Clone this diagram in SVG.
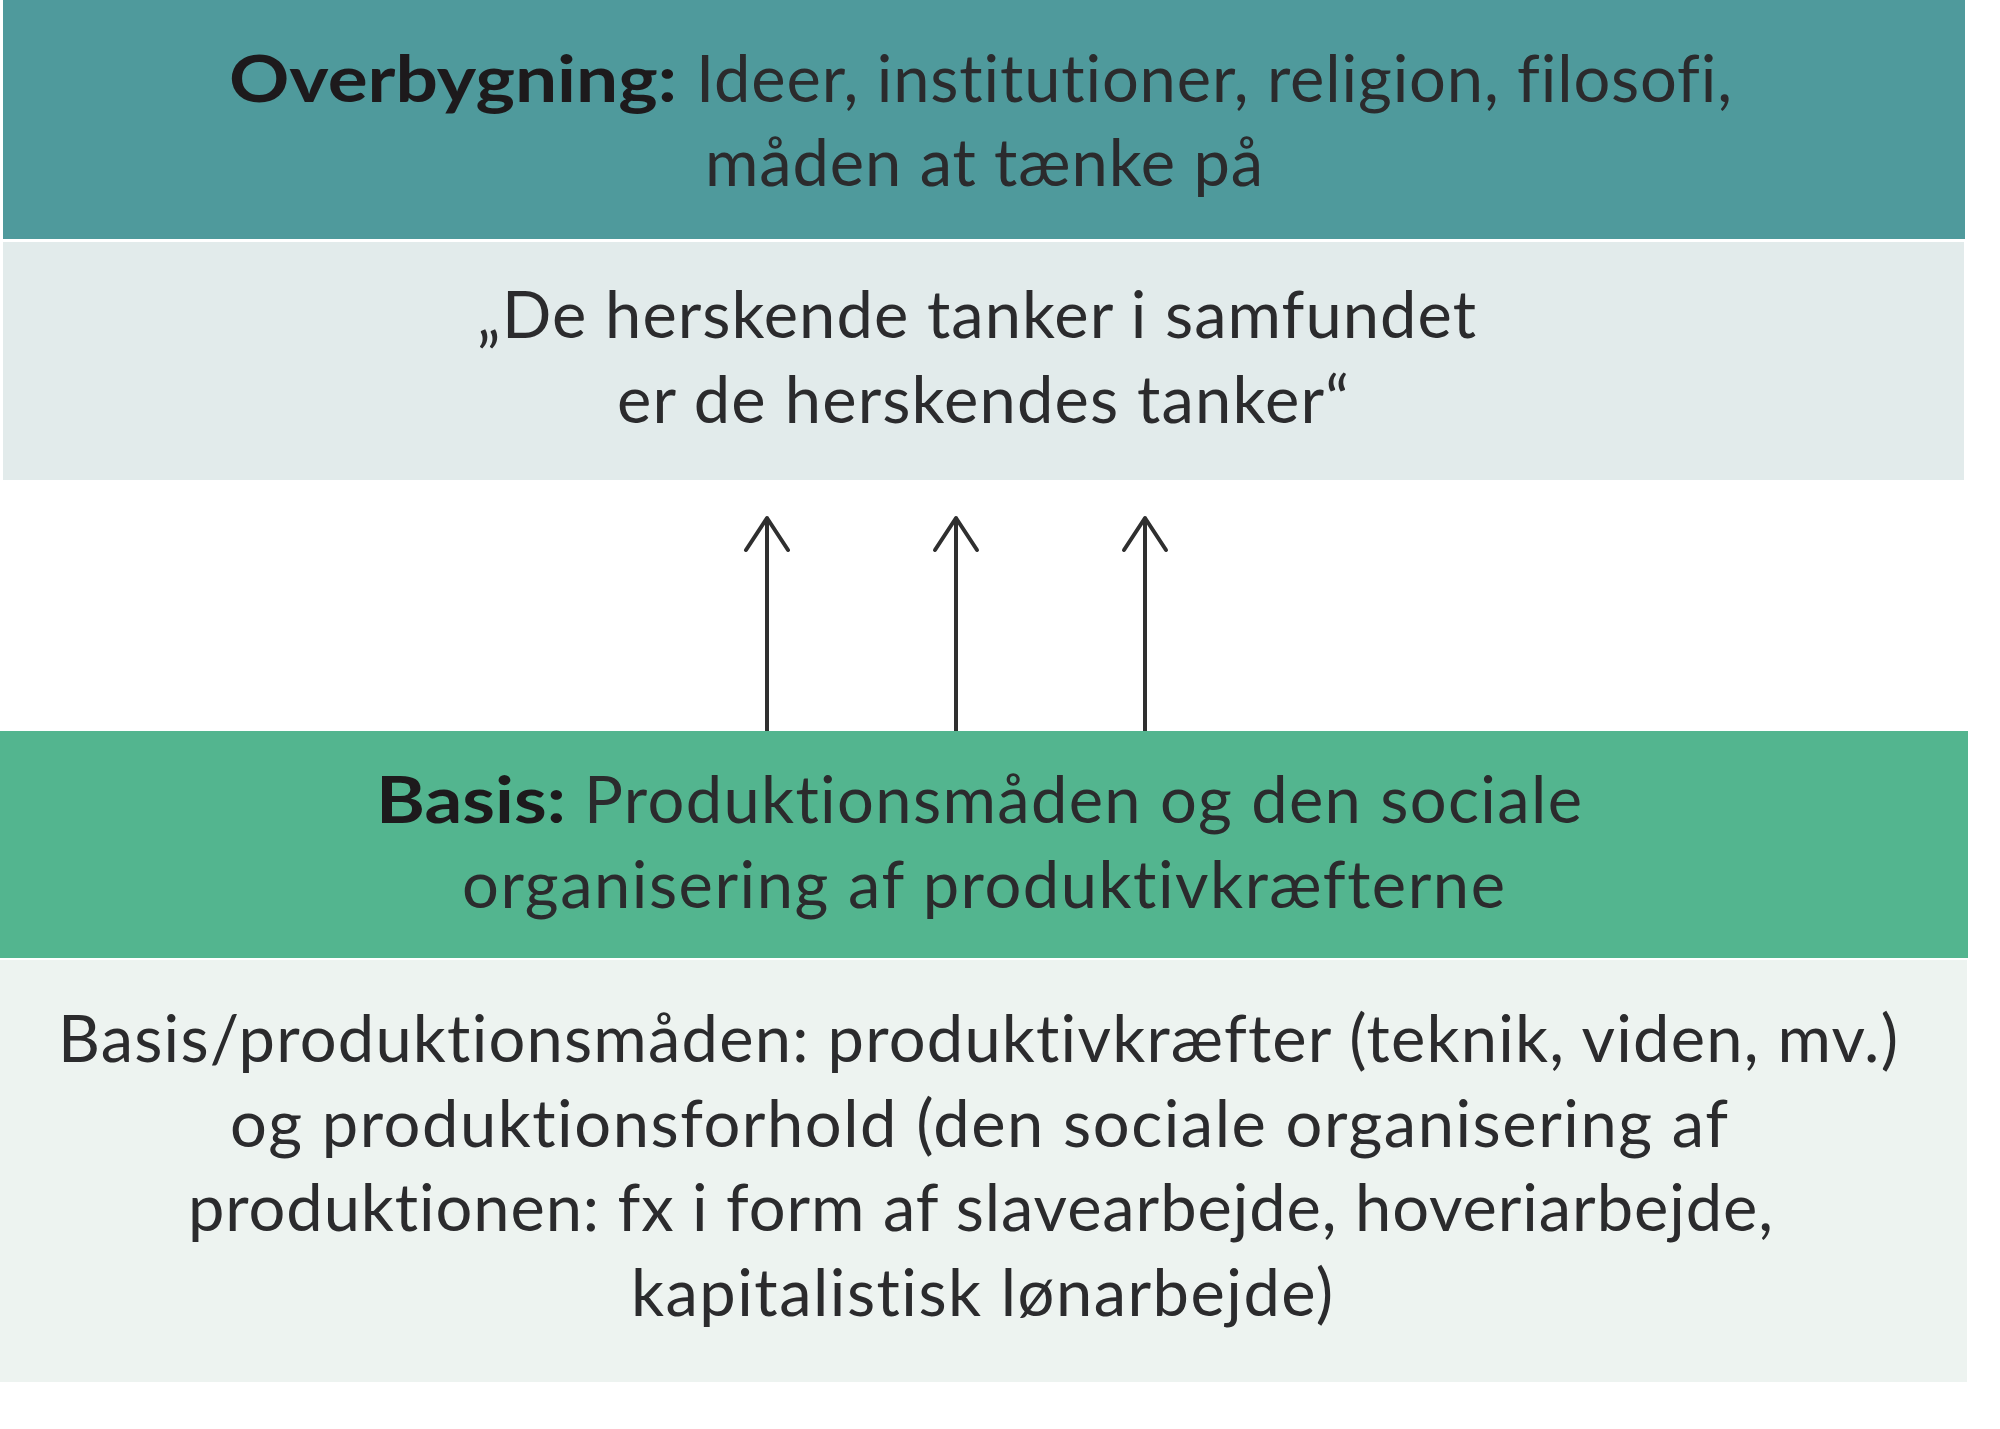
<svg xmlns="http://www.w3.org/2000/svg" width="2000" height="1429" viewBox="0 0 2000 1429">
  <style>
    .t { font-family: Lato, "Open Sans", "Liberation Sans", sans-serif; font-size: 65px; fill: #2b2b2d; font-variant-ligatures: none; font-feature-settings: "liga" 0, "clig" 0, "dlig" 0; }
    .b { font-weight: 700; fill: #1d1a1c; }
    .arrow { stroke: #2f2f2f; stroke-width: 4; fill: none; stroke-linecap: round; stroke-linejoin: round; }
  </style>
  <rect x="0" y="0" width="2000" height="1429" fill="#ffffff"/>

  <g id="overbygning">
    <rect x="3" y="0" width="1962" height="239" fill="#4f9a9c"/>
    <text class="t b" x="229" y="102" textLength="448" lengthAdjust="spacingAndGlyphs">Overbygning:</text>
    <text class="t" x="696" y="102" textLength="1036" lengthAdjust="spacing">Ideer, institutioner, religion, filosofi,</text>
    <text class="t" x="705" y="186" textLength="558" lengthAdjust="spacing">måden at tænke på</text>
  </g>

  <g id="citat">
    <rect x="3" y="242" width="1961" height="238" fill="#e2ebeb"/>
    <text class="t" x="477" y="338" textLength="999" lengthAdjust="spacing">„De herskende tanker i samfundet</text>
    <text class="t" x="617" y="423" textLength="732" lengthAdjust="spacing">er de herskendes tanker“</text>
  </g>

  <g id="connectors">
    <line class="arrow" x1="767" y1="731" x2="767" y2="519"/>
    <polyline class="arrow" points="746,550 767,518 788,550"/>
    <line class="arrow" x1="956" y1="731" x2="956" y2="519"/>
    <polyline class="arrow" points="935,550 956,518 977,550"/>
    <line class="arrow" x1="1145" y1="731" x2="1145" y2="519"/>
    <polyline class="arrow" points="1124,550 1145,518 1166,550"/>
  </g>

  <g id="basis">
    <rect x="0" y="731" width="1968" height="227" fill="#53b58f"/>
    <text class="t b" x="376" y="823" textLength="190" lengthAdjust="spacingAndGlyphs">Basis:</text>
    <text class="t" x="584" y="823" textLength="998" lengthAdjust="spacing">Produktionsmåden og den sociale</text>
    <text class="t" x="462" y="908" textLength="1043" lengthAdjust="spacing">organisering af produktivkræfterne</text>
  </g>

  <g id="produktionsmaade">
    <rect x="0" y="960" width="1967" height="422" fill="#edf3f0"/>
    <text class="t" x="58" y="1062" textLength="1840" lengthAdjust="spacing">Basis/produktionsmåden: produktivkræfter (teknik, viden, mv.)</text>
    <text class="t" x="230" y="1147" textLength="1498" lengthAdjust="spacing">og produktionsforhold (den sociale organisering af</text>
    <text class="t" x="188" y="1231" textLength="1585" lengthAdjust="spacing">produktionen: fx i form af slavearbejde, hoveriarbejde,</text>
    <text class="t" x="631" y="1316" textLength="702" lengthAdjust="spacing">kapitalistisk lønarbejde)</text>
  </g>
</svg>
